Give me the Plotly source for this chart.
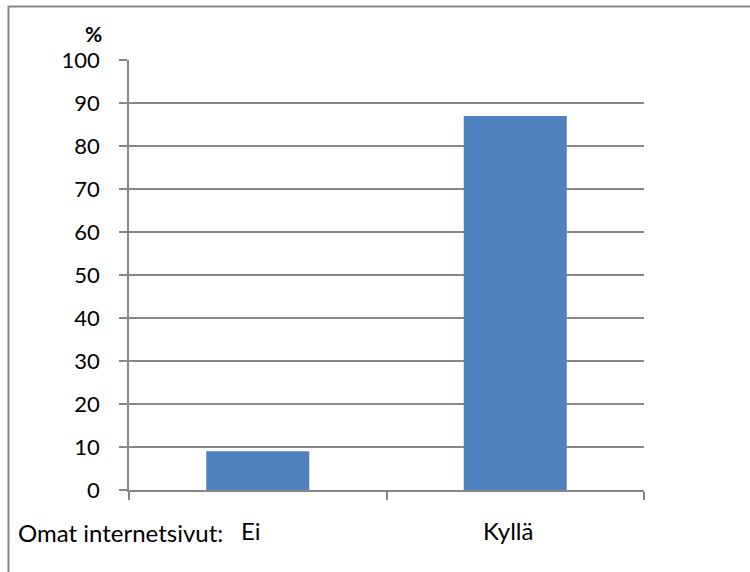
import plotly.graph_objects as go

# Survey share with / without own web pages
categories = ["Ei", "Kyllä"]
percent = [9, 87]
y_ticks = [0, 10, 20, 30, 40, 50, 60, 70, 80, 90, 100]

BAR = "#4F81BD"
GRID = "#878787"
FONT = "Lato, 'Open Sans', sans-serif"

W, H = 750, 572
L, R, T, B = 129, 106, 60, 82
pw, ph = W - L - R, H - T - B


def px_x(px):
    return (px - L) / pw


def px_y(py):
    return (H - B - py) / ph


fig = go.Figure(
    go.Bar(
        x=categories,
        y=percent,
        width=0.4,
        marker=dict(color=BAR, line=dict(width=0)),
        hoverinfo="x+y",
    )
)

fig.update_layout(
    width=W,
    height=H,
    margin=dict(l=L, r=R, t=T, b=B),
    paper_bgcolor="white",
    plot_bgcolor="white",
    showlegend=False,
    font=dict(family=FONT, color="black"),
    bargap=0.6,
)

fig.update_yaxes(
    range=[0, 100],
    tickvals=y_ticks,
    ticktext=[str(v) for v in y_ticks],
    tickfont=dict(size=22, family=FONT, color="black"),
    showgrid=True,
    gridcolor=GRID,
    gridwidth=1.5,
    zeroline=False,
    showline=True,
    linecolor=GRID,
    linewidth=1.5,
    ticks="outside",
    ticklen=8,
    tickwidth=1.5,
    tickcolor=GRID,
    ticklabelstandoff=15,
    fixedrange=True,
)

fig.update_xaxes(
    type="category",
    range=[-0.5, 1.5],
    tickson="boundaries",
    ticks="outside",
    ticklen=8,
    tickwidth=1.5,
    tickcolor=GRID,
    showline=True,
    linecolor=GRID,
    linewidth=1.5,
    showgrid=False,
    tickfont=dict(size=24, family=FONT, color="black"),
    ticklabelshift=-7,
    ticklabelstandoff=19,
    fixedrange=True,
)

# axis unit and category caption
fig.add_annotation(
    text="<b>%</b>", x=px_x(93), y=px_y(33), xref="paper", yref="paper",
    showarrow=False, font=dict(size=21, family=FONT, color="black"),
    xanchor="center", yanchor="middle",
)
fig.add_annotation(
    text="Omat internetsivut:", x=px_x(16), y=px_y(532), xref="paper", yref="paper",
    showarrow=False, font=dict(size=24, family=FONT, color="black"),
    xanchor="left", yanchor="middle",
)

# chart frame (top and left edges visible)
fig.add_shape(
    type="path", xref="paper", yref="paper",
    path=f"M {px_x(8.5)} {px_y(600)} L {px_x(8.5)} {px_y(6.5)} L {px_x(800)} {px_y(6.5)}",
    line=dict(color=GRID, width=2),
)

fig.write_html("out.html")
